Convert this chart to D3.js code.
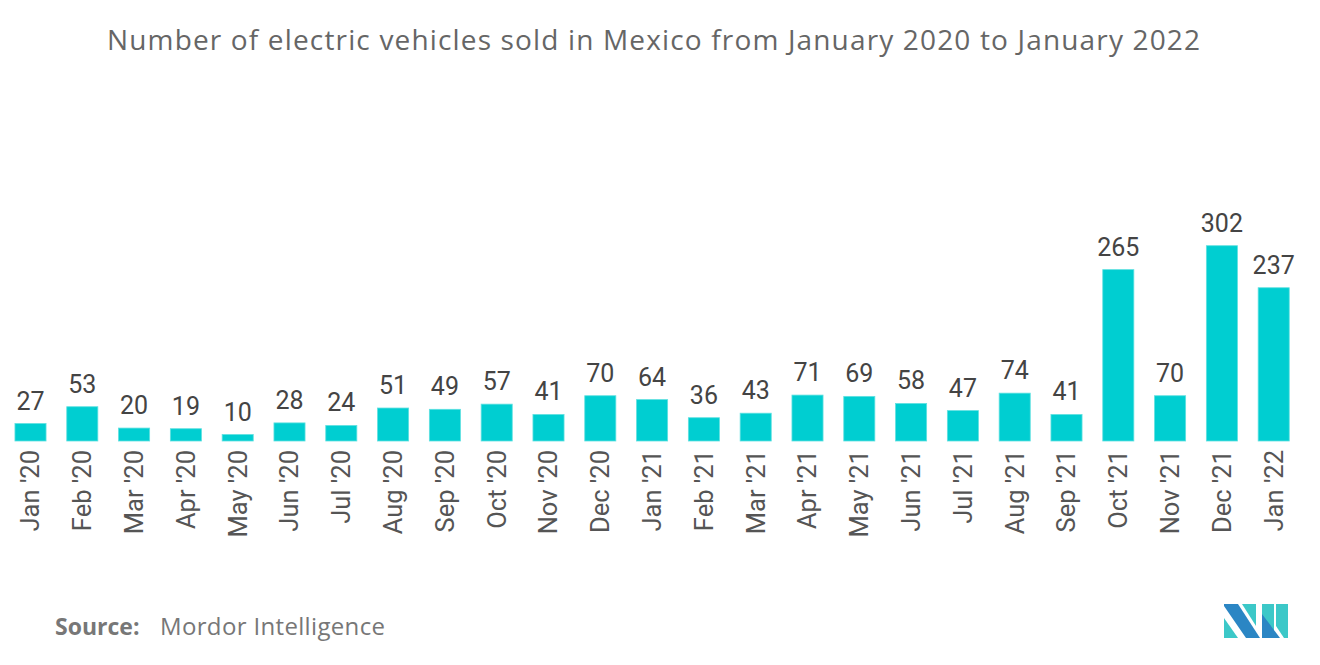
<!DOCTYPE html>
<html lang="en">
<head>
  <meta charset="UTF-8">
  <title>Electric vehicles sold in Mexico</title>
  <style>
    body { margin: 0; background: #fff; }
    svg { display: block; font-family: Roboto, "Noto Sans", sans-serif; }
  </style>
</head>
<body>
  <div id="chart"></div>
  <script src="https://d3js.org/d3.v7.min.js"></script>
  <script>
    // data
    const months = ["Jan '20", "Feb '20", "Mar '20", "Apr '20", "May '20", "Jun '20", "Jul '20",
                    "Aug '20", "Sep '20", "Oct '20", "Nov '20", "Dec '20", "Jan '21", "Feb '21",
                    "Mar '21", "Apr '21", "May '21", "Jun '21", "Jul '21", "Aug '21", "Sep '21",
                    "Oct '21", "Nov '21", "Dec '21", "Jan '22"];
    const sales = [27, 53, 20, 19, 10, 28, 24, 51, 49, 57, 41, 70, 64, 36, 43, 71, 69, 58, 47, 74, 41,
                   265, 70, 302, 237];

    const width = 1320, height = 665;
    const svg = d3.select("#chart").append("svg")
                  .attr("width", width)
                  .attr("height", height);

    // title (the original face is wider, so a slightly bigger size + fitted length)
    svg.append("text")
       .attr("x", 107).attr("y", 50)
       .attr("font-family", "'Open Sans', sans-serif")
       .attr("font-size", 28)
       .attr("fill", "#666")
       .attr("textLength", 1093)
       .attr("lengthAdjust", "spacing")
       .text("Number of electric vehicles sold in Mexico from January 2020 to January 2022");

    const x = d3.scaleBand()
                .domain(months)
                .range([4.6, 1299.6])
                .paddingInner(0.4)
                .paddingOuter(0.2);

    const y = d3.scaleLinear()
                .domain([0, 450])
                .range([441, 150]);

    // bars
    svg.selectAll("rect.bar")
       .data(months)
       .enter()
       .append("rect")
       .attr("class", "bar")
       .attr("x", d => x(d))
       .attr("width", x.bandwidth())
       .attr("y", (d, i) => y(sales[i]))
       .attr("height", (d, i) => y(0) - y(sales[i]))
       .attr("fill", "#00ced1")
       .attr("stroke", "#5fe0e0")
       .attr("stroke-width", 0.8);

    // value labels
    svg.selectAll("text.val")
       .data(months)
       .enter()
       .append("text")
       .attr("class", "val")
       .attr("x", d => x(d) + x.bandwidth() / 2)
       .attr("y", (d, i) => y(sales[i]) - 14)
       .attr("text-anchor", "middle")
       .attr("font-size", 25)
       .attr("fill", "#444")
       .text((d, i) => sales[i]);

    // x axis labels, rotated
    const xAxis = d3.axisBottom(x).tickSize(0).tickPadding(0);
    const gx = svg.append("g")
                  .attr("transform", "translate(0,450)")
                  .call(xAxis);
    gx.select(".domain").remove();
    gx.selectAll("text")
      .attr("font-family", "Roboto, 'Noto Sans', sans-serif")
      .attr("font-size", 25.5)
      .attr("fill", "#555")
      .attr("text-anchor", "end")
      .attr("dy", "0.35em")
      .attr("transform", "rotate(-90)")
      .attr("x", 0)
      .attr("y", 0);

    // source
    svg.append("text")
       .attr("x", 55).attr("y", 635)
       .attr("font-family", "'Open Sans', sans-serif")
       .attr("font-size", 23)
       .attr("font-weight", "bold")
       .attr("fill", "#777")
       .text("Source:");
    svg.append("text")
       .attr("x", 160).attr("y", 635)
       .attr("font-family", "'Open Sans', sans-serif")
       .attr("font-size", 24)
       .attr("fill", "#777")
       .attr("textLength", 225)
       .attr("lengthAdjust", "spacing")
       .text("Mordor Intelligence");

    // logo
    const logo = svg.append("g").attr("transform", "translate(1224,604)");
    const shapes = [
      { pts: [[0, 14], [0, 34], [14, 34]], c: "#3cc8c8" },
      { pts: [[0, 0], [14, 0], [36, 34], [22, 34], [0, 2]], c: "#2b86c4" },
      { pts: [[18, 0], [32, 0], [32, 22]], c: "#3cc8c8" },
      { pts: [[38, 0], [50, 0], [50, 34], [38, 34]], c: "#3cc8c8" },
      { pts: [[38, 10], [56, 34], [38, 34]], c: "#2b86c4" },
      { pts: [[52, 0], [64, 0], [64, 34], [60, 34], [52, 22]], c: "#3cc8c8" }
    ];
    logo.selectAll("polygon")
        .data(shapes)
        .enter()
        .append("polygon")
        .attr("points", d => d.pts.map(p => p.join(",")).join(" "))
        .attr("fill", d => d.c);
  </script>
</body>
</html>
